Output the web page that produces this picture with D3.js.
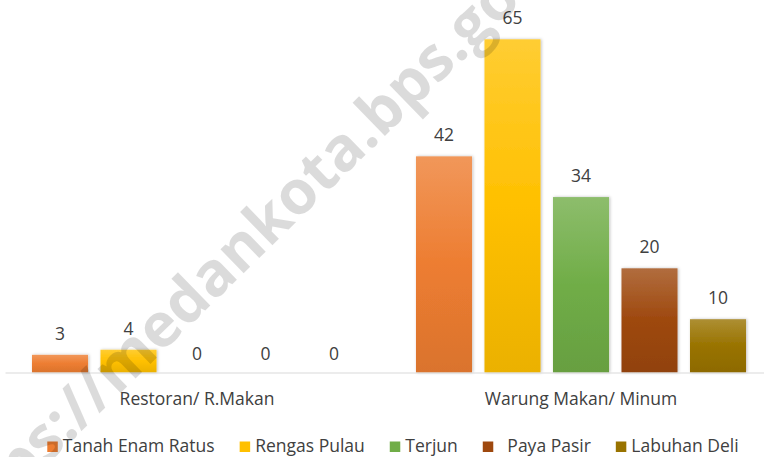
<!DOCTYPE html>
<html>
<head>
<meta charset="utf-8">
<script src="https://cdnjs.cloudflare.com/ajax/libs/d3/7.8.5/d3.min.js"></script>
<style>
  body { margin: 0; background: #fff; }
  svg { display: block; }
  text { font-family: "Open Sans", Lato, sans-serif; }
</style>
</head>
<body>
<div id="chart"></div>
<script>
// data
var categories = ["Restoran/ R.Makan", "Warung Makan/ Minum"];
var seriesNames = ["Tanah Enam Ratus", "Rengas Pulau", "Terjun", "  Paya Pasir", "Labuhan Deli"];
var restoranValues = [3, 4, 0, 0, 0];
var warungValues = [42, 65, 34, 20, 10];
var watermark = "https://medankota.bps.go.id";

var colors = ["#ED7D31", "#FFC000", "#70AD47", "#9E480E", "#997300"];

var width = 764, height = 457;
var baseY = 372.5;
var fontSize = "17.5px";

var rows = categories.map(function(c, i) {
  var vals = i == 0 ? restoranValues : warungValues;
  return { category: c, values: seriesNames.map(function(s, j) { return { series: s, idx: j, value: vals[j] }; }) };
});

var svg = d3.select("#chart").append("svg")
    .attr("width", width)
    .attr("height", height);

var defs = svg.append("defs");

colors.forEach(function(c, i) {
  var g = defs.append("linearGradient")
      .attr("id", "grad" + i)
      .attr("x1", 0).attr("y1", 0).attr("x2", 0).attr("y2", 1);
  g.append("stop").attr("offset", "0%").attr("stop-color", d3.interpolateRgb(c, "#fff")(0.2));
  g.append("stop").attr("offset", "50%").attr("stop-color", c);
  g.append("stop").attr("offset", "100%").attr("stop-color", d3.interpolateRgb(c, "#000")(0.08));
});

var shadow = defs.append("filter").attr("id", "shadow")
    .attr("x", "-20%").attr("y", "-20%").attr("width", "140%").attr("height", "140%");
shadow.append("feDropShadow")
    .attr("dx", 1).attr("dy", 0).attr("stdDeviation", 1.4)
    .attr("flood-color", "#000").attr("flood-opacity", 0.25);

var x0 = d3.scaleBand()
    .domain(categories)
    .range([5, 773]);

var x1 = d3.scaleBand()
    .domain(seriesNames)
    .range([0, x0.bandwidth()])
    .paddingInner(0.182)
    .paddingOuter(0.394);

var y = d3.scaleLinear()
    .domain([0, 65])
    .range([baseY - 2.4, 39.3]);

var groups = svg.selectAll(".group")
    .data(rows)
  .enter().append("g")
    .attr("class", "group")
    .attr("transform", function(d) { return "translate(" + x0(d.category) + ",0)"; });

groups.selectAll("rect")
    .data(function(d) { return d.values.filter(function(v) { return v.value > 0; }); })
  .enter().append("rect")
    .attr("x", function(d) { return x1(d.series); })
    .attr("y", function(d) { return y(d.value); })
    .attr("width", x1.bandwidth())
    .attr("height", function(d) { return baseY - y(d.value); })
    .attr("fill", function(d) { return "url(#grad" + d.idx + ")"; })
    .attr("filter", "url(#shadow)");

groups.selectAll(".lbl")
    .data(function(d) { return d.values; })
  .enter().append("text")
    .attr("class", "lbl")
    .attr("x", function(d) { return x1(d.series) + x1.bandwidth() / 2; })
    .attr("y", function(d) { return d.value > 0 ? y(d.value) - 15 : baseY - 13; })
    .attr("text-anchor", "middle")
    .attr("font-size", fontSize)
    .attr("fill", "#404040")
    .text(function(d) { return d.value; });

// category axis
var axis = svg.append("g")
    .attr("transform", "translate(0," + baseY + ")")
    .call(d3.axisBottom(x0).tickSize(0).tickPadding(0));
axis.select(".domain").attr("stroke", "#d9d9d9").attr("stroke-width", 1.2);
axis.selectAll("text")
    .attr("y", 32).attr("dy", 0)
    .attr("font-family", "'Open Sans', sans-serif")
    .attr("font-size", fontSize)
    .attr("fill", "#404040");

// legend
var legend = svg.append("g").attr("transform", "translate(0,452)");
var items = legend.selectAll(".item")
    .data(seriesNames)
  .enter().append("g")
    .attr("class", "item");
items.append("rect")
    .attr("y", -10.5)
    .attr("width", 10.5).attr("height", 10.5)
    .attr("fill", function(d, i) { return colors[i]; });
items.append("text")
    .attr("x", 15.5)
    .attr("font-size", fontSize)
    .attr("fill", "#404040")
    .style("white-space", "pre")
    .text(function(d) { return d; });

var pos = 0, offsets = [];
items.each(function() {
  offsets.push(pos);
  pos += 15.5 + d3.select(this).select("text").node().getComputedTextLength() + 25;
});
var total = pos - 25;
var startX = 393 - total / 2;
items.attr("transform", function(d, i) { return "translate(" + (startX + offsets[i]) + ",0)"; });

// watermark on top, fitted so the "m" of medan and the dot after bps sit where they are in the picture
var wm = svg.append("text")
    .attr("font-family", "'Liberation Sans', Arial, sans-serif")
    .attr("font-weight", "bold")
    .attr("font-size", "64px")
    .attr("fill", "#000")
    .attr("fill-opacity", 0.14)
    .text(watermark);

function charMid(node, i) {
  return (node.getStartPositionOfChar(i).x + node.getEndPositionOfChar(i).x) / 2;
}
var wmAngle = -44.2;
var mBase = [138.7, 375.3], dotBase = [465, 58];
var refDist = Math.hypot(dotBase[0] - mBase[0], dotBase[1] - mBase[1]);
var k = refDist / (charMid(wm.node(), 21) - charMid(wm.node(), 8));
wm.attr("font-size", (64 * k) + "px");
var mOff = charMid(wm.node(), 8);
var rad = wmAngle * Math.PI / 180;
var sx = mBase[0] - mOff * Math.cos(rad), sy = mBase[1] - mOff * Math.sin(rad);
wm.attr("transform", "translate(" + sx + "," + sy + ") rotate(" + wmAngle + ")");
</script>
</body>
</html>
